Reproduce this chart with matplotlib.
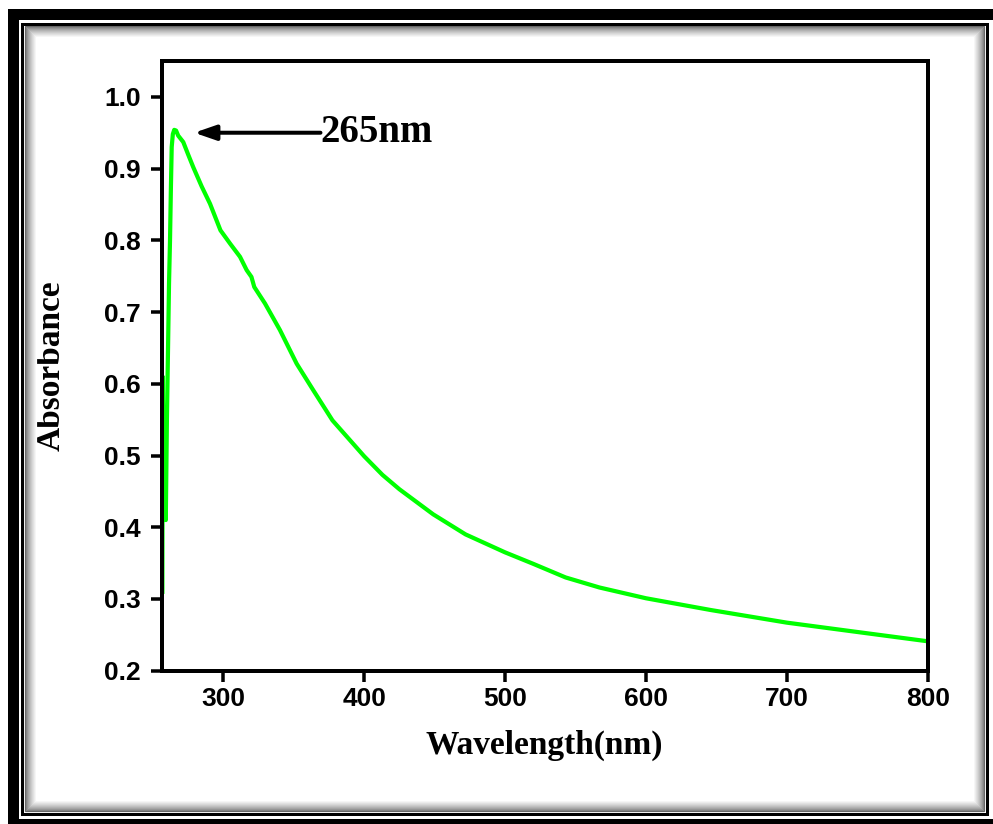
import numpy as np
import matplotlib.pyplot as plt
from matplotlib.patches import Rectangle

# UV-Vis spectrum
wavelength = [256.8, 257.0, 257.8, 258.6, 259.2, 260.0, 260.8, 261.5, 262.2, 262.8,
              263.4, 264.2, 265.2, 266.5, 268.0, 271.6, 275.0, 278.7, 284.7, 290.6,
              298.0, 305.0, 311.9, 316.6, 320.0, 322.0, 329.6, 340.2, 352.1, 363.9,
              377.5, 400.0, 413.0, 425.0, 449.0, 472.0, 500.0, 520.0, 543.0, 567.0,
              600.0, 646.0, 700.0, 743.0, 800.0]
absorbance = [0.31, 0.61, 0.42, 0.485, 0.41, 0.55, 0.65, 0.74, 0.80, 0.87,
              0.93, 0.948, 0.954, 0.953, 0.946, 0.937, 0.92, 0.902, 0.875, 0.851,
              0.814, 0.795, 0.777, 0.7585, 0.749, 0.735, 0.712, 0.675, 0.628, 0.591,
              0.549, 0.499, 0.473, 0.453, 0.418, 0.390, 0.365, 0.349, 0.330, 0.316,
              0.301, 0.2846, 0.267, 0.2558, 0.241]
xticks = [300, 400, 500, 600, 700, 800]
yticks = [0.2, 0.3, 0.4, 0.5, 0.6, 0.7, 0.8, 0.9, 1.0]
peak_label = "265nm"

W, H = 993, 824
fig = plt.figure(figsize=(W / 100, H / 100), dpi=100)

def pt(p):
    return p * 72 / 100

def frame(x0, y0, x1, y1, lw, color):
    # rectangle outline given in pixel coords (top-left origin)
    r = Rectangle((x0 / W, 1 - y1 / H), (x1 - x0) / W, (y1 - y0) / H,
                  transform=fig.transFigure, fill=False, lw=pt(lw), ec=color,
                  joinstyle='miter', clip_on=False)
    fig.add_artist(r)

# outer thick border, cut at right/bottom
frame(12.5, 13.5, 1010, 823.5, 11, 'black')
# inner shadow
for i in range(12):
    g = 0.4 + 0.6 * (i / 11) ** 0.7
    frame(25 + i, 26 + i, 984 - i, 811 - i, 1.2, (g, g, g))
# inner thin border
frame(22, 23.5, 986.5, 813.5, 3, 'black')

ax = fig.add_axes([161.7 / W, 1 - 670.7 / H, (927.7 - 161.7) / W, (670.7 - 61) / H])
ax.plot(wavelength, absorbance, color='#00ff00', lw=pt(4.2), solid_joinstyle='round')

ax.set_xlim(256.3, 800)
ax.set_ylim(0.2, 1.05)
ax.set_xticks(xticks)
ax.set_yticks(yticks)
ax.set_yticklabels([f"{v:.1f}" for v in yticks])
for s in ax.spines.values():
    s.set_linewidth(pt(4))
ax.tick_params(direction='out', length=pt(11), width=pt(3.5))
ax.tick_params(axis='y', pad=7)
ax.tick_params(axis='x', pad=4)
for lab in ax.get_xticklabels() + ax.get_yticklabels():
    lab.set_fontfamily('Liberation Sans')
    lab.set_fontweight('bold')
    lab.set_fontsize(19)

ax.set_xlabel("Wavelength(nm)", family='Liberation Serif', weight='bold',
              fontsize=24, labelpad=13)
ax.set_ylabel("Absorbance", family='Liberation Serif', weight='bold',
              fontsize=24, labelpad=27)

ax.annotate("", xy=(279.4, 0.95), xytext=(369, 0.95),
            arrowprops=dict(arrowstyle='-|>,head_length=1.3,head_width=0.45',
                            lw=pt(4), color='black', shrinkA=0, shrinkB=0))
ax.text(369, 0.95, peak_label, family='Liberation Serif', weight='bold',
        fontsize=28, va='center', ha='left')

fig.savefig("out.png", dpi=100)
